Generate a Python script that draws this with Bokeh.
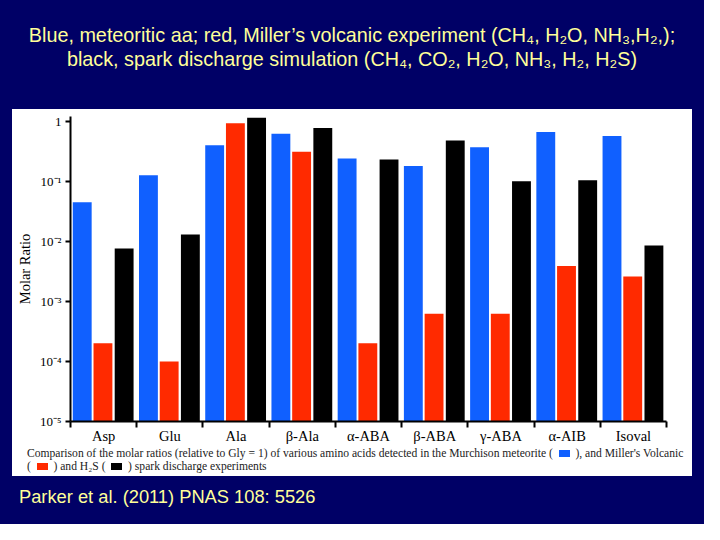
from bokeh.embed import file_html
from bokeh.resources import INLINE
from bokeh.layouts import column
from bokeh.models import ColumnDataSource, FixedTicker, Div
from bokeh.plotting import figure
from bokeh.transform import dodge

# amino acids and molar ratios (relative to Gly = 1)
amino = ["Asp", "Glu", "Ala", "β-Ala", "α-ABA", "β-ABA", "γ-ABA", "α-AIB", "Isoval"]
meteorite = [0.045, 0.126, 0.40, 0.62, 0.24, 0.18, 0.37, 0.66, 0.57]
volcanic = [2.0e-4, 1.0e-4, 0.93, 0.31, 2.0e-4, 6.2e-4, 6.2e-4, 3.9e-3, 2.6e-3]
spark = [7.6e-3, 1.3e-2, 1.14, 0.77, 0.23, 0.48, 0.10, 0.104, 8.5e-3]

y_ticks = [1e-5, 1e-4, 1e-3, 1e-2, 1e-1, 1]
y_tick_labels = ["10⁻⁵", "10⁻⁴", "10⁻³", "10⁻²", "10⁻¹", "1"]

NAVY = "#000066"
YELLOW = "#ffff99"
BLUE = "#1060ff"
RED = "#ff2a00"
SERIF = "Liberation Serif"
SANS = "Liberation Sans"

pos = [i + 0.5 for i in range(len(amino))]
source = ColumnDataSource(data=dict(pos=pos, name=amino, met=meteorite, vol=volcanic, spk=spark))

p = figure(width=680, height=337, output_backend="svg", toolbar_location=None,
           x_range=(0, len(amino)), y_range=(1e-5, 1.2), y_axis_type="log",
           min_border_left=58, min_border_right=26, min_border_top=7, min_border_bottom=23,
           margin=0)
p.background_fill_color = "white"
p.border_fill_color = "white"
p.outline_line_color = None
p.grid.grid_line_color = None

w = 0.285
p.vbar(x=dodge("pos", -0.323), top="met", bottom=1e-5, width=w, source=source,
       fill_color=BLUE, line_color=None)
p.vbar(x=dodge("pos", -0.01), top="vol", bottom=1e-5, width=w, source=source,
       fill_color=RED, line_color=None)
p.vbar(x=dodge("pos", 0.31), top="spk", bottom=1e-5, width=w, source=source,
       fill_color="black", line_color=None)

# x axis: labels at centres, short ticks between groups
xa = p.xaxis[0]
xa.ticker = FixedTicker(ticks=pos, minor_ticks=list(range(len(amino) + 1)))
xa.major_label_overrides = {x: n for x, n in zip(pos, amino)}
xa.major_tick_line_color = None
xa.major_tick_out = 2
xa.minor_tick_in = 0
xa.minor_tick_out = 6
xa.minor_tick_line_width = 2
xa.axis_line_width = 2
xa.major_label_standoff = 0
xa.major_label_text_font = SERIF
xa.major_label_text_font_size = "14.5px"
xa.major_label_text_color = "black"

ya = p.yaxis[0]
ya.ticker = FixedTicker(ticks=y_ticks, minor_ticks=[])
ya.major_label_overrides = {t: s for t, s in zip(y_ticks, y_tick_labels)}
ya.major_tick_in = 0
ya.major_tick_out = 5
ya.major_tick_line_width = 2
ya.axis_line_width = 2
ya.major_label_standoff = 4
ya.major_label_text_font = SERIF
ya.major_label_text_font_size = "13px"
ya.major_label_text_color = "black"
ya.axis_label = "Molar Ratio"
ya.axis_label_text_font = SERIF
ya.axis_label_text_font_size = "14.5px"
ya.axis_label_text_font_style = "normal"
ya.axis_label_text_color = "black"
ya.axis_label_standoff = 4

title = Div(
    text=("Blue, meteoritic aa; red, Miller’s volcanic experiment (CH₄, H₂O, NH₃,H₂,);<br>"
          "black, spark discharge simulation (CH₄, CO₂, H₂O, NH₃, H₂, H₂S)"),
    width=704, height=109, margin=0,
    styles={"font-family": SANS, "font-size": "19.8px", "color": YELLOW,
            "text-align": "center", "line-height": "24px", "padding-top": "23px",
            "box-sizing": "border-box", "white-space": "nowrap"})


def key(c):
    return ("&nbsp;&nbsp;<span style='display:inline-block;width:11px;height:7px;"
            "background:%s;'></span>&nbsp;&nbsp;" % c)


caption = Div(
    text=("Comparison of the molar ratios (relative to Gly = 1) of various amino acids "
          "detected in the Murchison meteorite (" + key(BLUE) + "), and Miller's Volcanic<br>("
          + key(RED) + ") and H₂S (" + key("black") + ") spark discharge experiments"),
    width=680, height=30, margin=0,
    styles={"font-family": SERIF, "font-size": "11.6px", "color": "#222222",
            "line-height": "13px", "padding-left": "15px", "padding-top": "1px",
            "box-sizing": "border-box", "white-space": "nowrap"})

panel = column(p, caption, width=680, height=367, margin=(0, 0, 0, 12),
               styles={"background-color": "white"})

cite = Div(text="Parker et al. (2011) PNAS 108: 5526", width=704, height=48, margin=0,
           styles={"font-family": SANS, "font-size": "18.3px", "color": YELLOW,
                   "line-height": "20px", "padding-top": "11px", "padding-left": "19px",
                   "box-sizing": "border-box"})

page = column(title, panel, cite, width=704, height=524, margin=0,
              styles={"background-color": NAVY})

open("out.html", "w").write(file_html(page, INLINE))
